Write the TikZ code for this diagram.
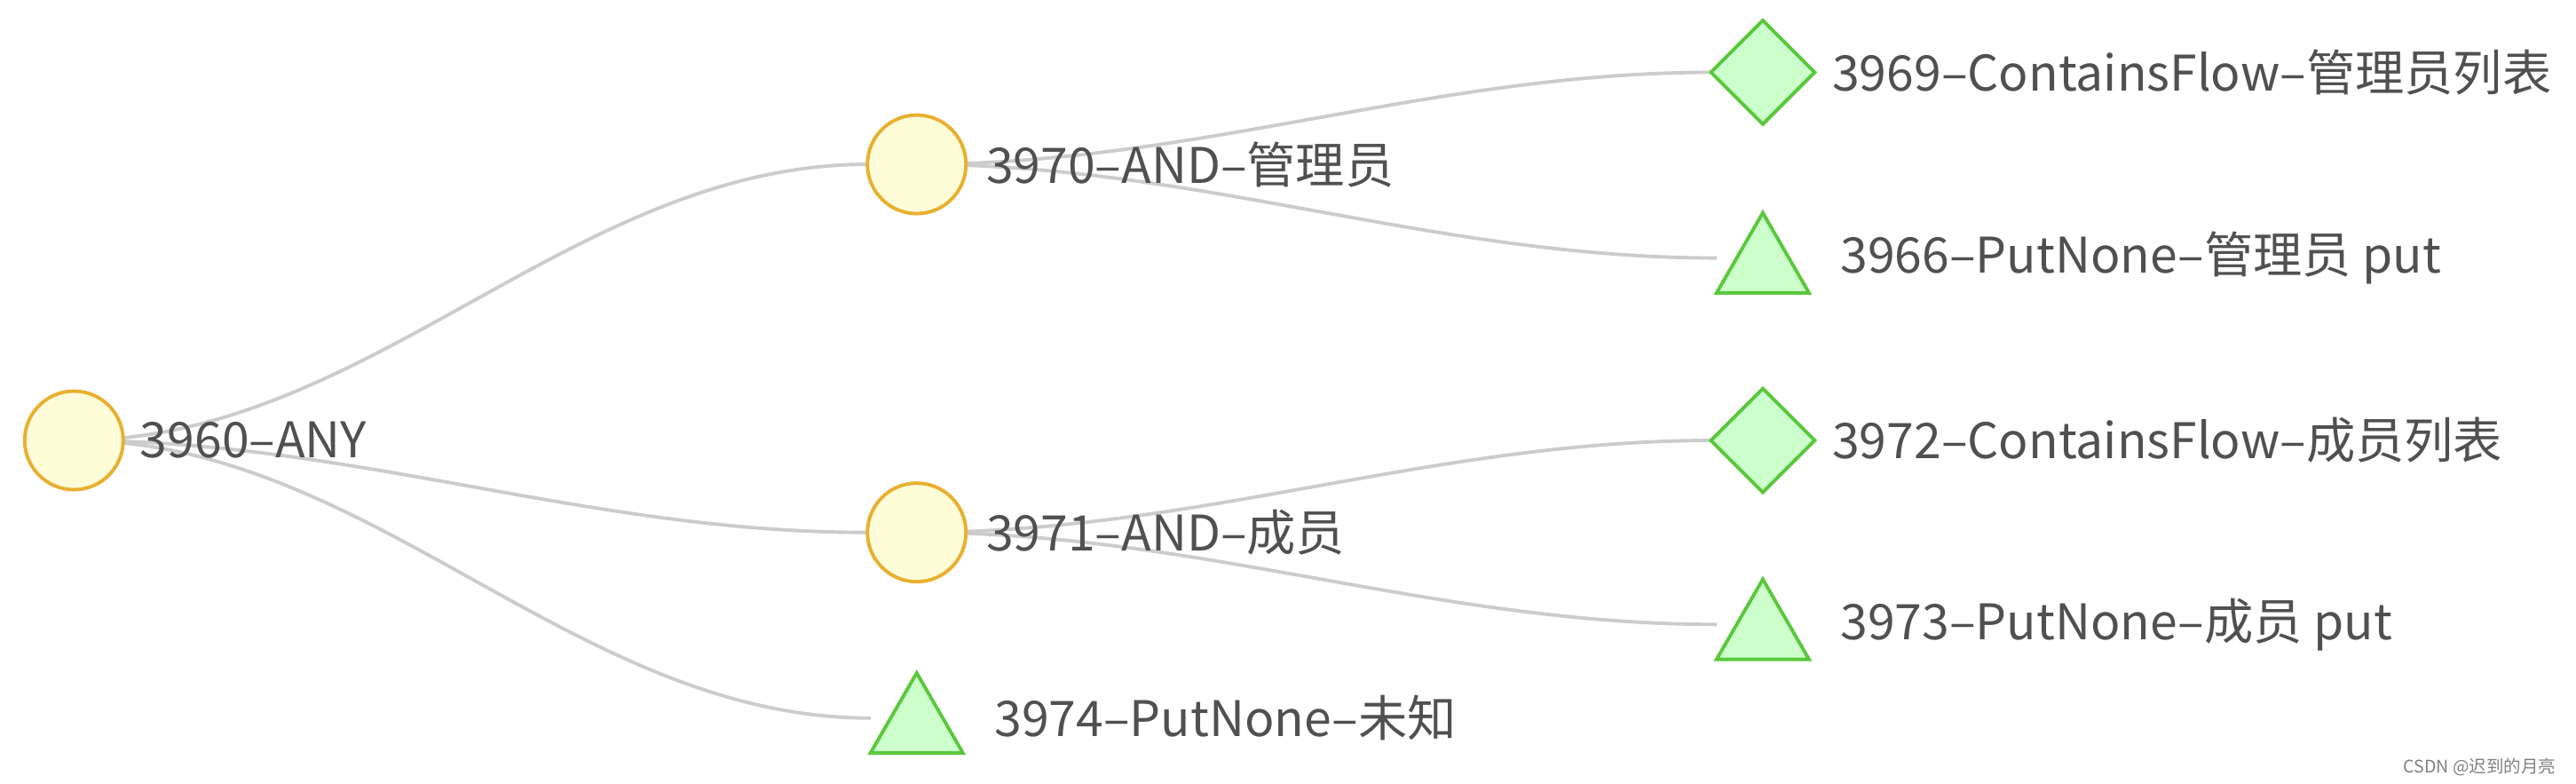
\documentclass[tikz,border=0pt]{standalone}
\usepackage{fontspec}
\setmainfont{Noto Sans CJK SC}
\usetikzlibrary{shapes,positioning}
\definecolor{andfill}{RGB}{255,252,216}
\definecolor{anddraw}{RGB}{232,176,48}
\definecolor{leaffill}{RGB}{204,255,204}
\definecolor{leafdraw}{RGB}{90,200,60}
\definecolor{edgegray}{RGB}{204,204,204}
\definecolor{labelgray}{RGB}{80,80,80}
\begin{document}
\begin{tikzpicture}[x=0.02cm,y=-0.02cm,
    andnode/.style={circle, fill=andfill, draw=anddraw, line width=1.2pt, minimum size=1.2cm, inner sep=0pt},
    flownode/.style={diamond, fill=leaffill, draw=leafdraw, line width=1.2pt, minimum size=1.28cm, inner sep=0pt},
    putnode/.style={regular polygon, regular polygon sides=3, fill=leaffill, draw=leafdraw, line width=1.2pt, minimum size=1.3cm, inner sep=0pt},
    lbl/.style={text=labelgray, font=\fontsize{17}{20}\selectfont, inner sep=0pt, anchor=west},
    edge/.style={edgegray, line width=1.2pt}]
    \useasboundingbox (0,0) rectangle (1568,477);

    % Edges
    \coordinate (e3974) at (530,437);
    \coordinate (e3966) at (1045,157);
    \coordinate (e3973) at (1045,380);
    \coordinate (c3960) at (45,268);
    \coordinate (c3970) at (558,100);
    \coordinate (c3971) at (558,324);
    \draw[edge] (c3960) to[out=0,in=180,looseness=0.9] (528,100);
    \draw[edge] (c3960) to[out=0,in=180,looseness=0.9] (528,324);
    \draw[edge] (c3960) to[out=0,in=180,looseness=0.9] (e3974);
    \draw[edge] (c3970) to[out=0,in=180,looseness=0.9] (1043,44);
    \draw[edge] (c3970) to[out=0,in=180,looseness=0.9] (e3966);
    \draw[edge] (c3971) to[out=0,in=180,looseness=0.9] (1043,268);
    \draw[edge] (c3971) to[out=0,in=180,looseness=0.9] (e3973);

    % Shapes
    \node[andnode] (n3960) at (c3960) {};
    \node[andnode] (n3970) at (c3970) {};
    \node[andnode] (n3971) at (c3971) {};
    \node[putnode] (n3974) at (558,442) {};
    \node[flownode] (n3969) at (1073,44) {};
    \node[putnode] (n3966) at (1073,162) {};
    \node[flownode] (n3972) at (1073,268) {};
    \node[putnode] (n3973) at (1073,385) {};

    % Labels
    \node[lbl] (t3960) at (85,268) {3960–ANY};
    \node[lbl] (t3970) at (600,100) {3970–AND–管理员};
    \node[lbl] (t3971) at (600,324) {3971–AND–成员};
    \node[lbl] (t3974) at (605,437) {3974–PutNone–未知};
    \node[lbl] (t3969) at (1115,44) {3969–ContainsFlow–管理员列表};
    \node[lbl] (t3966) at (1120,157) {3966–PutNone–管理员 put};
    \node[lbl] (t3972) at (1115,268) {3972–ContainsFlow–成员列表};
    \node[lbl] (t3973) at (1120,380) {3973–PutNone–成员 put};
    \node[text=gray, font=\fontsize{6}{7}\selectfont, anchor=east] (mark) at (1562,467) {CSDN @迟到的月亮};
\end{tikzpicture}
\end{document}
